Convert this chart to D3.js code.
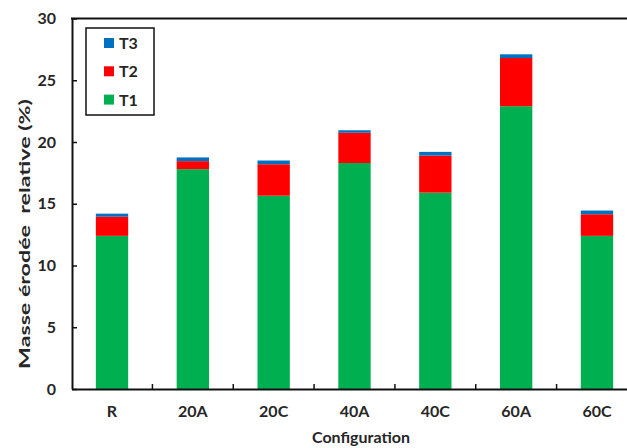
<!DOCTYPE html>
<html><head><meta charset="utf-8">
<script src="https://cdn.jsdelivr.net/npm/d3@7"></script>
<style>body{margin:0;background:#fff;overflow:hidden}svg{display:block}text{font-family:Lato,"Open Sans",sans-serif;font-weight:bold;fill:#262626}</style>
</head><body><svg id="c" width="627" height="448"></svg>
<script>
const categories = ["R","20A","20C","40A","40C","60A","60C"];
const T1 = [12.4, 17.8, 15.65, 18.3, 15.9, 22.9, 12.4];
const T2 = [1.55, 0.65, 2.55, 2.45, 3.0, 3.9, 1.75];
const T3 = [0.25, 0.3, 0.3, 0.2, 0.3, 0.3, 0.3];
const seriesNames = ["T1","T2","T3"];
const colors = {T1:"#00B050", T2:"#FF0000", T3:"#0070C0"};
const yTicks = [0,5,10,15,20,25,30];

const svg = d3.select("#c");
const x = d3.scaleBand().domain(categories).range([71.6, 637.4]).paddingInner(0.6).paddingOuter(0.3);
const y = d3.scaleLinear().domain([0,30]).range([389, 18.5]);

const rows = categories.map((c,i)=>({cat:c, T1:T1[i], T2:T2[i], T3:T3[i]}));
const stack = d3.stack().keys(seriesNames)(rows);

svg.append("g").selectAll("g").data(stack).join("g")
  .attr("fill", d=>colors[d.key])
  .selectAll("rect").data(d=>d).join("rect")
  .attr("x", d=>x(d.data.cat)).attr("width", x.bandwidth())
  .attr("y", d=>y(d[1])).attr("height", d=>y(d[0])-y(d[1]));

// top frame line
svg.append("line").attr("x1",71).attr("x2",627).attr("y1",y(30)).attr("y2",y(30)).attr("stroke","#111").attr("stroke-width",2);

// y axis
const ya = svg.append("g").attr("transform","translate(72,0)")
  .call(d3.axisLeft(y).tickValues(yTicks).tickSize(-5).tickPadding(16).tickSizeOuter(0));
ya.select(".domain").attr("stroke","#111").attr("stroke-width",2);
ya.selectAll(".tick line").attr("stroke","#111").attr("stroke-width",1.5);
ya.selectAll("text").style("font-size","16px").attr("fill","#262626");

// x axis
const xa = svg.append("g").attr("transform","translate(0,389)")
  .call(d3.axisBottom(x).tickSize(0).tickPadding(17));
xa.select(".domain").attr("stroke","#111").attr("stroke-width",2);
xa.selectAll("text").style("font-size","16px").attr("fill","#262626");
svg.append("g").selectAll("line").data(categories.slice(1)).join("line")
  .attr("x1", d=>x(d)-x.step()*0.3).attr("x2", d=>x(d)-x.step()*0.3)
  .attr("y1",389).attr("y2",384).attr("stroke","#111").attr("stroke-width",1.5);

// axis titles
svg.append("text").attr("x",361).attr("y",443)
  .attr("text-anchor","middle").style("font-size","16px").text("Configuration");
svg.append("text").attr("transform","translate(30,234) rotate(-90)")
  .attr("text-anchor","middle").style("font-size","16px").attr("xml:space","preserve")
  .attr("textLength",270).attr("lengthAdjust","spacingAndGlyphs")
  .text("Masse érodée  relative (%)");

// legend
const lg = svg.append("g");
lg.append("rect").attr("x",86).attr("y",28).attr("width",68).attr("height",87)
  .attr("fill","#fff").attr("stroke","#111").attr("stroke-width",1.5);
const legendOrder = ["T3","T2","T1"];
legendOrder.forEach((k,i)=>{
  const cy = 43 + i*28.3;
  lg.append("rect").attr("x",104).attr("y",cy-5).attr("width",10).attr("height",10).attr("fill",colors[k]);
  lg.append("text").attr("x",119).attr("y",cy+6).style("font-size","16px").text(k);
});
</script></body></html>
